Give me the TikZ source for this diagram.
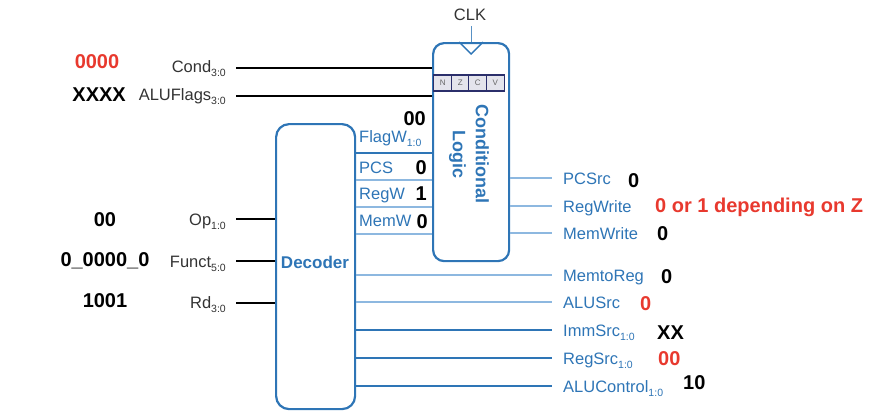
\documentclass[tikz,border=0pt]{standalone}
\usepackage{fontspec}
\setmainfont{Liberation Sans}
\definecolor{bl}{HTML}{2E75B6}
\definecolor{lbl}{HTML}{8DB8E0}
\definecolor{rd}{HTML}{E8392E}
\definecolor{nzfill}{HTML}{E4E4EC}
\definecolor{navy}{HTML}{2B2F6B}
\definecolor{gr}{HTML}{333333}
\newcommand\bsub[1]{\raisebox{-0.5ex}{\fontsize{10.5}{11}\selectfont #1}}
\tikzset{
  blk/.style={draw=bl, line width=2.2pt, rounded corners=11pt, inner sep=0pt},
  inlbl/.style={anchor=base east, text=gr, font=\fontsize{16.5}{18}\selectfont, inner sep=0pt},
  outlbl/.style={anchor=base west, text=bl, font=\fontsize{16.5}{18}\selectfont, inner sep=0pt},
  val/.style={font=\bfseries\fontsize{20}{22}\selectfont, inner sep=0pt},
  wire/.style={draw=black, line width=2.6pt},
  sig/.style={draw=lbl, line width=1.1pt},
  bus/.style={draw=bl, line width=2.6pt},
  flag/.style={draw=navy, fill=nzfill, line width=1.2pt, minimum width=17.75pt, minimum height=16pt, inner sep=0pt, text=black!60, font=\fontsize{8}{8}\selectfont}
}
\begin{document}
\begin{tikzpicture}[x=1pt,y=-1pt]
\useasboundingbox (0,0) rectangle (893,416);

% boxes
\node[blk, minimum width=76pt, minimum height=218pt, anchor=north west] (cl) at (432,42) {};
\node[blk, rounded corners=13pt, minimum width=79pt, minimum height=285pt, anchor=north west] (dec) at (275,123) {};
\node[text=bl, font=\bfseries\fontsize{17}{20}\selectfont, inner sep=0pt] (dectext) at (315,262) {Decoder};
\node[rotate=-90, align=center, text=bl, font=\bfseries\fontsize{18}{23}\selectfont, inner sep=0pt] (cltext) at (469,154) {Conditional\\Logic};

% clock
\node[font=\fontsize{16.5}{18}\selectfont, text=gr, inner sep=0pt] (clk) at (470,15) {CLK};
\coordinate (clktop) at (470,26);
\draw[draw=bl!80, line width=1pt] (cl.north |- clktop) -- (cl.north);
\draw[draw=bl, line width=1.3pt] ([xshift=-12pt]cl.north) -- ([yshift=-12pt]cl.north) -- ([xshift=12pt]cl.north);

% flags
\foreach \l [count=\i] in {N,Z,C,V}
  \node[flag] (f\l) at ({434+17.5*(\i-0.5)},83) {\l};

% left inputs to conditional logic
\node[inlbl] (cond) at (226,72) {Cond\bsub{3:0}};
\node[inlbl] (aluf) at (226,100) {ALUFlags\bsub{3:0}};
\coordinate (condS) at (236,68);
\coordinate (alufS) at (236,96);
\draw[wire] (condS) -- (cl.west |- condS);
\draw[wire] (alufS) -- (cl.west |- alufS);
\node[val, text=rd, anchor=base] (v0000) at (97,68) {0000};
\node[val, text=black, anchor=base east] (vxxxx) at (126,101) {XXXX};

% decoder inputs
\node[inlbl] (op) at (226,225) {Op\bsub{1:0}};
\node[inlbl] (funct) at (226,267) {Funct\bsub{5:0}};
\node[inlbl] (rdin) at (226,308) {Rd\bsub{3:0}};
\coordinate (opS) at (236,219);
\coordinate (functS) at (236,261);
\coordinate (rdS) at (236,303);
\draw[wire] (opS) -- (dec.west |- opS);
\draw[wire] (functS) -- (dec.west |- functS);
\draw[wire] (rdS) -- (dec.west |- rdS);
\node[val, anchor=base] (vop) at (105,226) {00};
\node[val, anchor=base] (vfunct) at (105,266) {0\_0000\_0};
\node[val, anchor=base] (vrd) at (105,307) {1001};

% decoder to conditional logic
\coordinate (flagwY) at (0,153);
\coordinate (pcsY) at (0,180);
\coordinate (regwY) at (0,207);
\coordinate (memwY) at (0,234);
\draw[bus] (dec.east |- flagwY) -- (cl.west |- flagwY);
\draw[sig] (dec.east |- pcsY) -- (cl.west |- pcsY);
\draw[sig] (dec.east |- regwY) -- (cl.west |- regwY);
\draw[sig] (dec.east |- memwY) -- (cl.west |- memwY);
\node[outlbl] (flagw) at (359,142) {FlagW\bsub{1:0}};
\node[outlbl] (pcs) at (359,173) {PCS};
\node[outlbl] (regw) at (359,199) {RegW};
\node[outlbl] (memw) at (359,226) {MemW};
\node[val, anchor=base east] (vflagw) at (426,125) {00};
\node[val, anchor=base east] (vpcs) at (427,174) {0};
\node[val, anchor=base east] (vregw) at (427,200) {1};
\node[val, anchor=base east] (vmemw) at (428,228) {0};

% conditional logic outputs
\coordinate (pcsrcE) at (552,178);
\coordinate (regwriteE) at (552,206);
\coordinate (memwriteE) at (552,233);
\draw[sig] (cl.east |- pcsrcE) -- (pcsrcE);
\draw[sig] (cl.east |- regwriteE) -- (regwriteE);
\draw[sig] (cl.east |- memwriteE) -- (memwriteE);
\node[outlbl] (pcsrc) at (563,184) {PCSrc};
\node[outlbl] (regwrite) at (563,212) {RegWrite};
\node[outlbl] (memwrite) at (563,239) {MemWrite};
\node[val, anchor=base west] (vpcsrc) at (628,187) {0};
\node[val, anchor=base west, text=rd] (vregwrite) at (655,212) {0 or 1 depending on Z};
\node[val, anchor=base west] (vmemwrite) at (657,240) {0};

% decoder outputs
\coordinate (mtrE) at (552,275);
\coordinate (alusrcE) at (552,302);
\coordinate (immE) at (552,330);
\coordinate (regsrcE) at (552,358);
\coordinate (aluctlE) at (552,386);
\draw[sig] (dec.east |- mtrE) -- (mtrE);
\draw[sig] (dec.east |- alusrcE) -- (alusrcE);
\draw[bus] (dec.east |- immE) -- (immE);
\draw[bus] (dec.east |- regsrcE) -- (regsrcE);
\draw[bus] (dec.east |- aluctlE) -- (aluctlE);
\node[outlbl] (mtr) at (563,281) {MemtoReg};
\node[outlbl] (alusrc) at (563,308) {ALUSrc};
\node[outlbl] (imm) at (563,336) {ImmSrc\bsub{1:0}};
\node[outlbl] (regsrc) at (563,364) {RegSrc\bsub{1:0}};
\node[outlbl] (aluctl) at (563,392) {ALUControl\bsub{1:0}};
\node[val, anchor=base west] (vmtr) at (661,283) {0};
\node[val, anchor=base west, text=rd] (valusrc) at (640,310) {0};
\node[val, anchor=base west] (vimm) at (657,339) {XX};
\node[val, anchor=base west, text=rd] (vregsrc) at (658,365) {00};
\node[val, anchor=base west] (valuctl) at (683,389) {10};
\end{tikzpicture}
\end{document}
